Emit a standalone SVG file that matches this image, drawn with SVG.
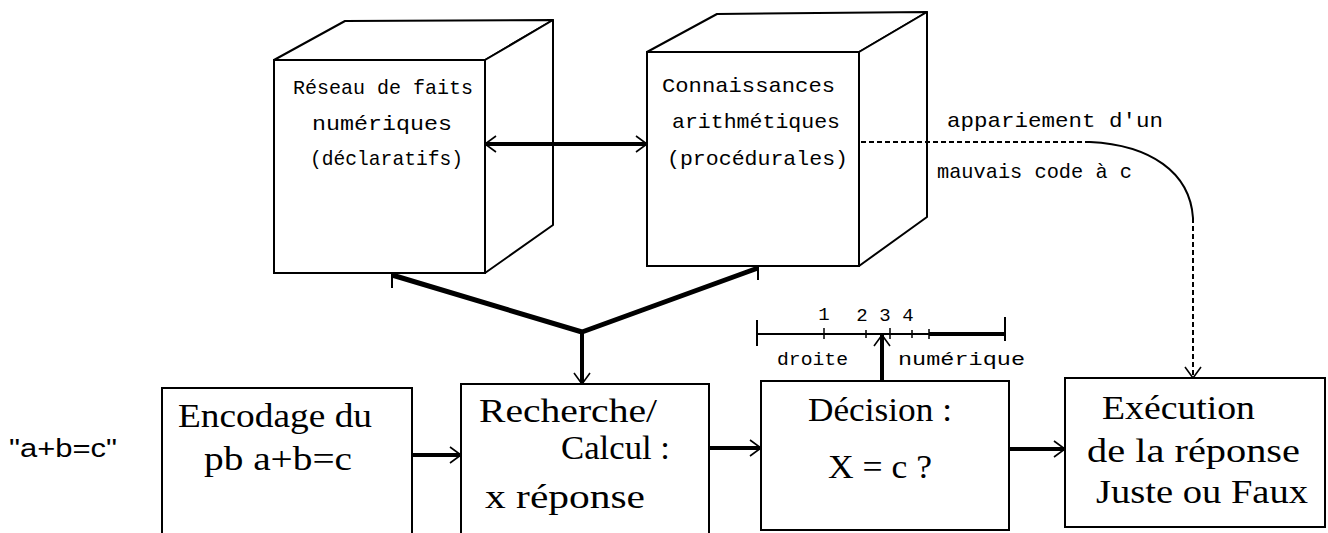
<svg xmlns="http://www.w3.org/2000/svg" width="1328" height="533" viewBox="0 0 1328 533">
<style>
.face{fill:#fff;stroke:#000;stroke-width:2;stroke-linejoin:round}
.box{fill:#fff;stroke:#000;stroke-width:2}
.cube{font-family:"Liberation Mono","DejaVu Sans Mono",monospace;font-size:21px;fill:#000}
.big{font-family:"Liberation Serif","Times New Roman",serif;font-size:33px;fill:#000}
.small{font-family:"Liberation Mono","DejaVu Sans Mono",monospace;font-size:19px;fill:#000}
.thick{fill:none;stroke:#000;stroke-width:4}
.heavy{fill:none;stroke:#000;stroke-width:5;stroke-linejoin:round}
.thin{fill:none;stroke:#000;stroke-width:2}
.dash{fill:none;stroke:#000;stroke-width:2;stroke-dasharray:5 3}
</style>
<defs>
<marker id="arr" viewBox="-1 -9 13 18" refX="11" refY="0" markerWidth="13" markerHeight="18" markerUnits="userSpaceOnUse" orient="auto-start-reverse">
<path d="M0,-8 L11,0 L0,8" fill="none" stroke="#000" stroke-width="1.6"/>
</marker>
</defs>

<g id="cube-reseau">
<polygon class="face" points="274,60 345,21 553,20 485,60"/>
<polygon class="face" points="485,60 553,20 553,225 485,273"/>
<rect class="box" x="274" y="60" width="211" height="213"/>
<text class="cube" x="293" y="94" textLength="180" lengthAdjust="spacingAndGlyphs">Réseau de faits</text>
<text class="cube" x="312" y="130" textLength="140" lengthAdjust="spacingAndGlyphs">numériques</text>
<text class="cube" x="310" y="165" textLength="153" lengthAdjust="spacingAndGlyphs">(déclaratifs)</text>
</g>

<g id="cube-connaissances">
<polygon class="face" points="647,52 717,14 927,12 859,52"/>
<polygon class="face" points="859,52 927,12 927,217 859,266"/>
<rect class="box" x="647" y="52" width="212" height="214"/>
<text class="cube" x="662" y="92" textLength="173" lengthAdjust="spacingAndGlyphs">Connaissances</text>
<text class="cube" x="672" y="128" textLength="168" lengthAdjust="spacingAndGlyphs">arithmétiques</text>
<text class="cube" x="667" y="165" textLength="181" lengthAdjust="spacingAndGlyphs">(procédurales)</text>
</g>

<g id="input">
<text x="9" y="457" font-family="Liberation Sans, Arial, sans-serif" font-size="26" textLength="108" lengthAdjust="spacingAndGlyphs">"a+b=c"</text>
</g>

<g id="encodage">
<path class="box" d="M162,540 L162,388 L412,388 L412,540"/>
<text class="big" x="178" y="427" textLength="194" lengthAdjust="spacingAndGlyphs">Encodage du</text>
<text class="big" x="204" y="470" textLength="148" lengthAdjust="spacingAndGlyphs">pb  a+b=c</text>
</g>

<g id="recherche">
<path class="box" d="M461,540 L461,384 L709,384 L709,540"/>
<text class="big" x="479" y="422" textLength="178" lengthAdjust="spacingAndGlyphs">Recherche/</text>
<text class="big" x="561" y="459" textLength="109" lengthAdjust="spacingAndGlyphs">Calcul :</text>
<text class="big" x="485" y="508" textLength="160" lengthAdjust="spacingAndGlyphs">x réponse</text>
</g>

<g id="decision">
<rect class="box" x="761" y="381" width="248" height="149"/>
<text class="big" x="808" y="421" textLength="144" lengthAdjust="spacingAndGlyphs">Décision :</text>
<text class="big" x="828" y="478" textLength="104" lengthAdjust="spacingAndGlyphs">X = c ?</text>
</g>

<g id="execution">
<rect class="box" x="1065" y="378" width="260" height="149"/>
<text class="big" x="1102" y="419" textLength="153" lengthAdjust="spacingAndGlyphs">Exécution</text>
<text class="big" x="1087" y="462" textLength="213" lengthAdjust="spacingAndGlyphs">de la réponse</text>
<text class="big" x="1096" y="503" textLength="212" lengthAdjust="spacingAndGlyphs">Juste ou Faux</text>
</g>

<g id="droite-numerique">
<line class="thin" x1="757" y1="334" x2="929" y2="334"/>
<line x1="929" y1="334" x2="1005" y2="334" stroke="#000" stroke-width="4"/>
<line class="thin" x1="757" y1="320" x2="757" y2="346"/>
<line class="thin" x1="1005" y1="317" x2="1005" y2="341"/>
<g stroke="#000" stroke-width="1.5">
<line x1="824" y1="328" x2="824" y2="339"/>
<line x1="866" y1="330" x2="866" y2="338"/>
<line x1="890" y1="328" x2="890" y2="339"/>
<line x1="912" y1="330" x2="912" y2="338"/>
<line x1="929" y1="329" x2="929" y2="339"/>
</g>
<g class="small" text-anchor="middle">
<text x="824" y="320">1</text>
<text x="862" y="321">2</text>
<text x="885" y="321">3</text>
<text x="908" y="321">4</text>
</g>
<text class="small" x="777" y="365" textLength="71" lengthAdjust="spacingAndGlyphs">droite</text>
<text class="small" x="898" y="365" textLength="127" lengthAdjust="spacingAndGlyphs">numérique</text>
</g>

<g id="label-appariement">
<text class="cube" x="947" y="127" textLength="216" lengthAdjust="spacingAndGlyphs">appariement d'un</text>
<text class="cube" x="937" y="178" textLength="195" lengthAdjust="spacingAndGlyphs">mauvais code à c</text>
</g>

<g id="connectors">
<line class="thick" x1="485" y1="144" x2="647" y2="144" marker-start="url(#arr)" marker-end="url(#arr)"/>
<polyline class="heavy" points="392,275 582,332 758,268"/>
<line class="thin" x1="392" y1="273" x2="392" y2="288"/>
<line class="thin" x1="758" y1="266" x2="758" y2="280"/>
<line class="thick" x1="582" y1="332" x2="582" y2="384" marker-end="url(#arr)"/>
<line class="thick" x1="412" y1="455" x2="461" y2="455" marker-end="url(#arr)"/>
<line class="thick" x1="709" y1="448" x2="761" y2="448" marker-end="url(#arr)"/>
<line class="thick" x1="1009" y1="449" x2="1065" y2="449" marker-end="url(#arr)"/>
<line class="thick" x1="882" y1="381" x2="882" y2="335" marker-end="url(#arr)"/>
<line class="dash" x1="861" y1="142" x2="1090" y2="142"/>
<path class="thin" d="M1090,142 C1150,145 1190,172 1193,218"/>
<line class="dash" x1="1193" y1="218" x2="1193" y2="378" marker-end="url(#arr)"/>
</g>
</svg>
